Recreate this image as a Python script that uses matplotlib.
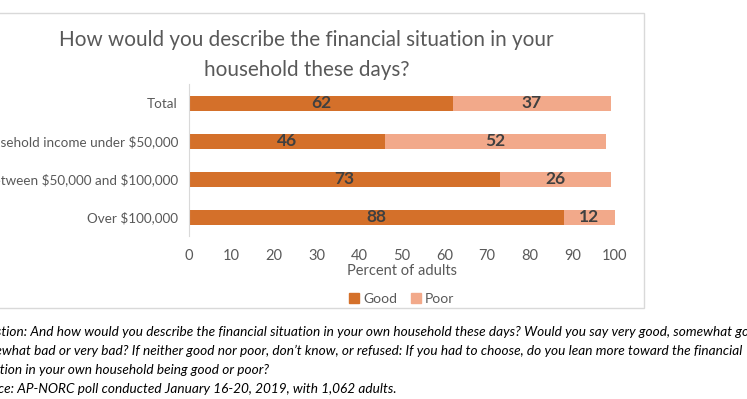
import matplotlib
matplotlib.use("Agg")
import matplotlib.pyplot as plt
from matplotlib.patches import Patch, Rectangle

plt.rcParams['font.family'] = ['Lato', 'DejaVu Sans']

# data
groups = ['Total', 'Household income under $50,000',
          'Between $50,000 and $100,000', 'Over $100,000']
good = [62, 46, 73, 88]
poor = [37, 52, 26, 12]
xticks = [0, 10, 20, 30, 40, 50, 60, 70, 80, 90, 100]

footnote = [
    "Question: And how would you describe the financial situation in your own household these days? Would you say very good, somewhat good,",
    "somewhat bad or very bad? If neither good nor poor, don\u2019t know, or refused: If you had to choose, do you lean more toward the financial",
    "situation in your own household being good or poor?",
    "Source: AP-NORC poll conducted January 16-20, 2019, with 1,062 adults.",
]

GOOD_C = '#D4702A'
POOR_C = '#F2A98A'
GRAY = '#595959'

fig = plt.figure(figsize=(7.47, 3.99), dpi=100)
ax = fig.add_axes([0.253, 0.408, 0.570, 0.381])

ypos = list(range(len(groups)))
ax.barh(ypos, good, height=0.4, color=GOOD_C, label='Good')
ax.barh(ypos, poor, left=good, height=0.4, color=POOR_C, label='Poor')

for y, g, p in zip(ypos, good, poor):
    ax.text(g / 2, y, str(g), ha='center', va='center', fontsize=12.5,
            fontweight='bold', color='#404040')
    ax.text(g + p / 2, y, str(p), ha='center', va='center', fontsize=12.5,
            fontweight='bold', color='#404040')

ax.set_xlim(0, 100)
ax.set_ylim(len(groups) - 0.5, -0.5)
ax.set_xticks(xticks)
ax.set_yticks(ypos)
ax.set_yticklabels([g.replace('$', r'\$') for g in groups])
ax.tick_params(axis='x', length=0, pad=9, labelsize=10.5, labelcolor=GRAY)
ax.tick_params(axis='y', length=0, pad=8, labelsize=9.7, labelcolor=GRAY)
for s in ['top', 'right', 'bottom']:
    ax.spines[s].set_visible(False)
ax.spines['left'].set_color('#d9d9d9')
ax.set_xlabel('Percent of adults', fontsize=10.5, color=GRAY, labelpad=1)

fig.text(0.41, 1 - 40 / 399, 'How would you describe the financial situation in your',
         ha='center', va='center', fontsize=14.9, color=GRAY)
fig.text(0.41, 1 - 70 / 399, 'household these days?',
         ha='center', va='center', fontsize=14.9, color=GRAY)

handles = [Patch(color=GOOD_C, label='Good'), Patch(color=POOR_C, label='Poor')]
fig.legend(handles=handles, loc='center', bbox_to_anchor=(402 / 747, 1 - 299 / 399),
           ncol=2, frameon=False, fontsize=10, handlelength=0.7, handleheight=0.7,
           handletextpad=0.3, columnspacing=1.0, labelcolor=GRAY)

# chart border
fig.add_artist(Rectangle((-0.01, 1 - 308 / 399), 0.01 + 644 / 747, (308 - 13) / 399,
                         transform=fig.transFigure, fill=False,
                         edgecolor='#d9d9d9', lw=1))

for i, line in enumerate(footnote):
    fig.text(-28 / 747, 1 - (332 + 19 * i) / 399, line, ha='left', va='center',
             fontsize=9.8, style='italic', color='black')

fig.savefig('out.png', dpi=100)
